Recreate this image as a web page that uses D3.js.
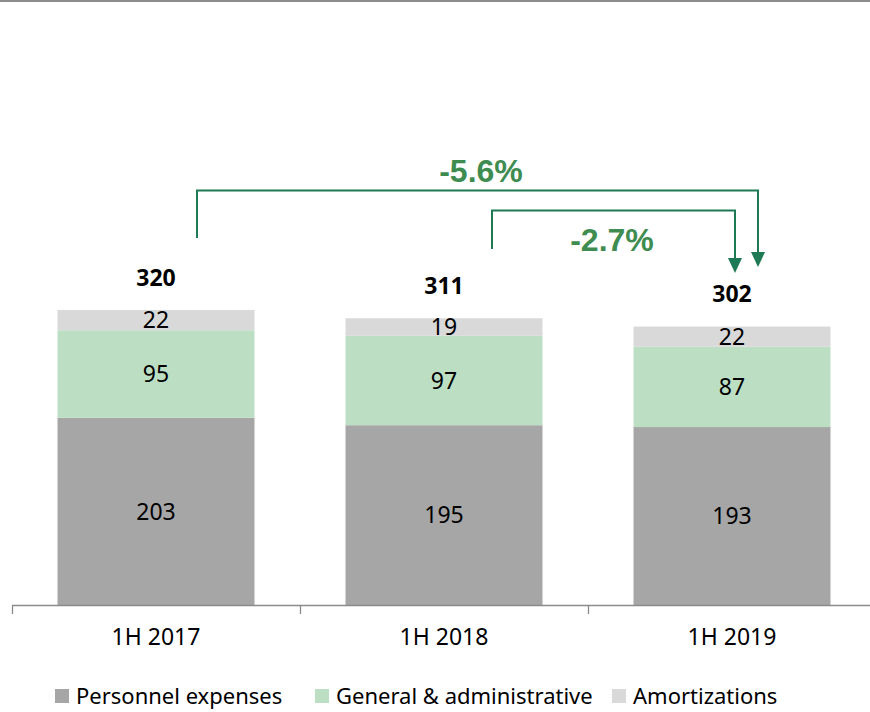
<!DOCTYPE html>
<html>
<head>
<meta charset="utf-8">
<script src="https://cdn.jsdelivr.net/npm/d3@7"></script>
<style>
  html, body { margin: 0; padding: 0; background: #fff; }
  svg { display: block; }
</style>
</head>
<body>
<svg id="chart" width="870" height="712"></svg>
<script>
// Operating expenses by half-year, stacked by type
const categories = ["1H 2017", "1H 2018", "1H 2019"];
const personnel = [203, 195, 193];
const generalAdmin = [95, 97, 87];
const amortizations = [22, 19, 22];
const totals = [320, 311, 302];
const seriesNames = ["Personnel expenses", "General & administrative", "Amortizations"];
const seriesColors = ["#a6a6a6", "#bcdfc4", "#d9d9d9"];
// Growth brackets: [from category, to category, label]
const changes = [
  ["1H 2017", "1H 2019", "-5.6%"],
  ["1H 2018", "1H 2019", "-2.7%"]
];

const svg = d3.select("#chart");
const W = 870;
const baseY = 605;

const x = d3.scaleBand()
  .domain(categories)
  .range([12, 876])
  .paddingInner(0.316)
  .paddingOuter(0.158);

const y = d3.scaleLinear().domain([0, 400]).range([baseY, baseY - 400 * 0.922]);

// top rule
svg.append("rect").attr("x", 0).attr("y", 0).attr("width", W).attr("height", 2).attr("fill", "#8c8c8c");

// stacked data
const rows = categories.map((c, i) => ({
  cat: c,
  "Personnel expenses": personnel[i],
  "General & administrative": generalAdmin[i],
  "Amortizations": amortizations[i]
}));
const stack = d3.stack().keys(seriesNames)(rows);

const layer = svg.append("g").selectAll("g")
  .data(stack).join("g")
  .attr("fill", (d, i) => seriesColors[i]);

layer.selectAll("rect")
  .data(d => d)
  .join("rect")
  .attr("x", d => x(d.data.cat))
  .attr("width", x.bandwidth())
  .attr("y", d => y(d[1]))
  .attr("height", d => y(d[0]) - y(d[1]));

// segment value labels
const labelFont = "'Noto Sans', 'Open Sans', sans-serif";
const fs = "23px";
layer.selectAll("text")
  .data(d => d)
  .join("text")
  .attr("x", d => x(d.data.cat) + x.bandwidth() / 2)
  .attr("y", d => (y(d[0]) + y(d[1])) / 2)
  .attr("dy", "0.36em")
  .attr("text-anchor", "middle")
  .attr("fill", "#000")
  .style("font-family", labelFont)
  .style("font-size", fs)
  .text(d => d[1] - d[0]);

// totals above bars
svg.append("g").selectAll("text")
  .data(categories)
  .join("text")
  .attr("x", c => x(c) + x.bandwidth() / 2)
  .attr("y", (c, i) => y(totals[i]) - 32.5)
  .attr("dy", "0.36em")
  .attr("text-anchor", "middle")
  .style("font-family", labelFont)
  .style("font-size", fs)
  .style("font-weight", "bold")
  .text((c, i) => totals[i]);

// x axis: baseline with ticks on category boundaries
const step = x.step();
const gap = step * x.paddingInner();
const axis = svg.append("g").attr("stroke", "#8c8c8c").attr("stroke-width", 1.3);
axis.append("line").attr("x1", 12).attr("x2", W).attr("y1", baseY + 0.5).attr("y2", baseY + 0.5);
categories.forEach(c => {
  const tx = Math.round(x(c) - gap / 2) + 0.5;
  axis.append("line").attr("x1", tx).attr("x2", tx).attr("y1", baseY).attr("y2", baseY + 9);
});
svg.append("g").selectAll("text")
  .data(categories)
  .join("text")
  .attr("x", c => x(c) + x.bandwidth() / 2)
  .attr("y", 637)
  .attr("dy", "0.36em")
  .attr("text-anchor", "middle")
  .style("font-family", labelFont)
  .style("font-size", fs)
  .text(c => c);

// growth brackets
const green = "#1d7a55";
const textGreen = "#3e8c50";
const bracketGeom = [
  { fromOff: 41, toOff: 26, top: 190.5, leftBottom: 238, tip: 267, tx: 481, ty: 170 },
  { fromOff: 48, toOff: 3, top: 210.5, leftBottom: 249, tip: 273, tx: 612, ty: 239 }
];
const brackets = svg.append("g");
changes.forEach(([from, to, label], i) => {
  const g = bracketGeom[i];
  const x0 = Math.round(x(from) + x.bandwidth() / 2 + g.fromOff);
  const x1 = Math.round(x(to) + x.bandwidth() / 2 + g.toOff);
  brackets.append("path")
    .attr("d", `M${x0},${g.leftBottom}V${g.top}H${x1}V${g.tip - 14}`)
    .attr("fill", "none")
    .attr("stroke", green)
    .attr("stroke-width", 2);
  brackets.append("path")
    .attr("d", `M${x1 - 7},${g.tip - 15}L${x1 + 7},${g.tip - 15}L${x1},${g.tip}Z`)
    .attr("fill", green);
  brackets.append("text")
    .attr("x", g.tx).attr("y", g.ty).attr("dy", "0.36em")
    .attr("text-anchor", "middle")
    .style("font-family", "'Liberation Sans', Arial, sans-serif")
    .style("font-size", "32px").style("font-weight", "bold")
    .attr("fill", textGreen)
    .text(label);
});

// legend
const legendX = [55, 315, 612];
const legend = svg.append("g");
seriesNames.forEach((name, i) => {
  legend.append("rect")
    .attr("x", legendX[i]).attr("y", 689).attr("width", 14).attr("height", 14)
    .attr("fill", seriesColors[i]);
  legend.append("text")
    .attr("x", legendX[i] + 21).attr("y", 696).attr("dy", "0.36em")
    .style("font-family", labelFont)
    .style("font-size", "22px")
    .text(name);
});
</script>
</body>
</html>
